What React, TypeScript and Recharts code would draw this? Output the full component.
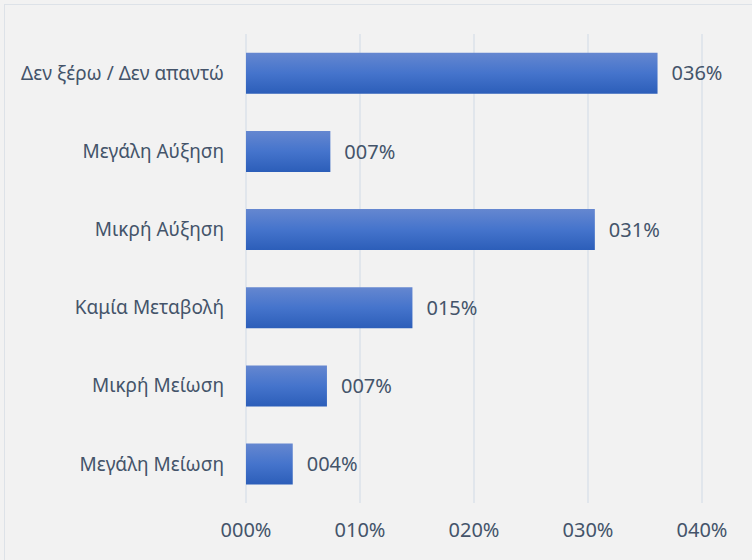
import { BarChart, Bar, XAxis, YAxis, CartesianGrid, LabelList } from 'recharts';

// answer categories, top to bottom
const categories = [
  'Δεν ξέρω / Δεν απαντώ',
  'Μεγάλη Αύξηση',
  'Μικρή Αύξηση',
  'Καμία Μεταβολή',
  'Μικρή Μείωση',
  'Μεγάλη Μείωση',
];
const shares = [0.361, 0.074, 0.306, 0.146, 0.071, 0.041];
const xTicks = [0, 0.1, 0.2, 0.3, 0.4];

const data = categories.map((name, i) => ({ name, value: shares[i] }));

const pct = (v: number) => String(Math.round(v * 100)).padStart(3, '0') + '%';

const FONT = '"Noto Sans", sans-serif';
const TEXT = '#44546a';

export default function App() {
  return (
    <div
      style={{
        position: 'fixed',
        left: 0,
        top: 0,
        width: 752,
        height: 560,
        background: '#f2f2f2',
        overflow: 'hidden',
        fontFamily: FONT,
      }}
    >
      <div
        style={{
          position: 'absolute',
          left: 4,
          top: 4,
          width: 760,
          height: 570,
          border: '1.5px solid #dde2e8',
        }}
      />
      <div style={{ position: 'absolute', left: 0, top: 0 }}>
        <BarChart
          width={752}
          height={560}
          data={data}
          layout="vertical"
          margin={{ top: 34, right: 50, bottom: 7, left: 0 }}
          barCategoryGap="24%"
        >
          <defs>
            <linearGradient id="barFill" x1="0" y1="0" x2="0" y2="1">
              <stop offset="0%" stopColor="#6587d0" />
              <stop offset="50%" stopColor="#4574cc" />
              <stop offset="100%" stopColor="#2c5eb9" />
            </linearGradient>
          </defs>
          <CartesianGrid horizontal={false} stroke="#dbe2ea" strokeWidth={1.5} />
          <XAxis
            type="number"
            domain={[0, 0.4]}
            ticks={xTicks}
            tickFormatter={pct}
            axisLine={false}
            tickLine={false}
            tickSize={0}
            tickMargin={20}
            height={50}
            tick={{ fill: TEXT, fontSize: 20, fontFamily: FONT }}
          />
          <YAxis
            type="category"
            dataKey="name"
            width={246}
            axisLine={false}
            tickLine={false}
            tickSize={0}
            tickMargin={22}
            tick={{ fill: TEXT, fontSize: 19, fontFamily: FONT }}
          />
          <Bar dataKey="value" fill="url(#barFill)" isAnimationActive={false}>
            <LabelList
              dataKey="value"
              position="right"
              offset={14}
              formatter={(v: any) => pct(Number(v))}
              style={{ fill: TEXT, fontSize: 20, fontFamily: FONT }}
            />
          </Bar>
        </BarChart>
      </div>
    </div>
  );
}
